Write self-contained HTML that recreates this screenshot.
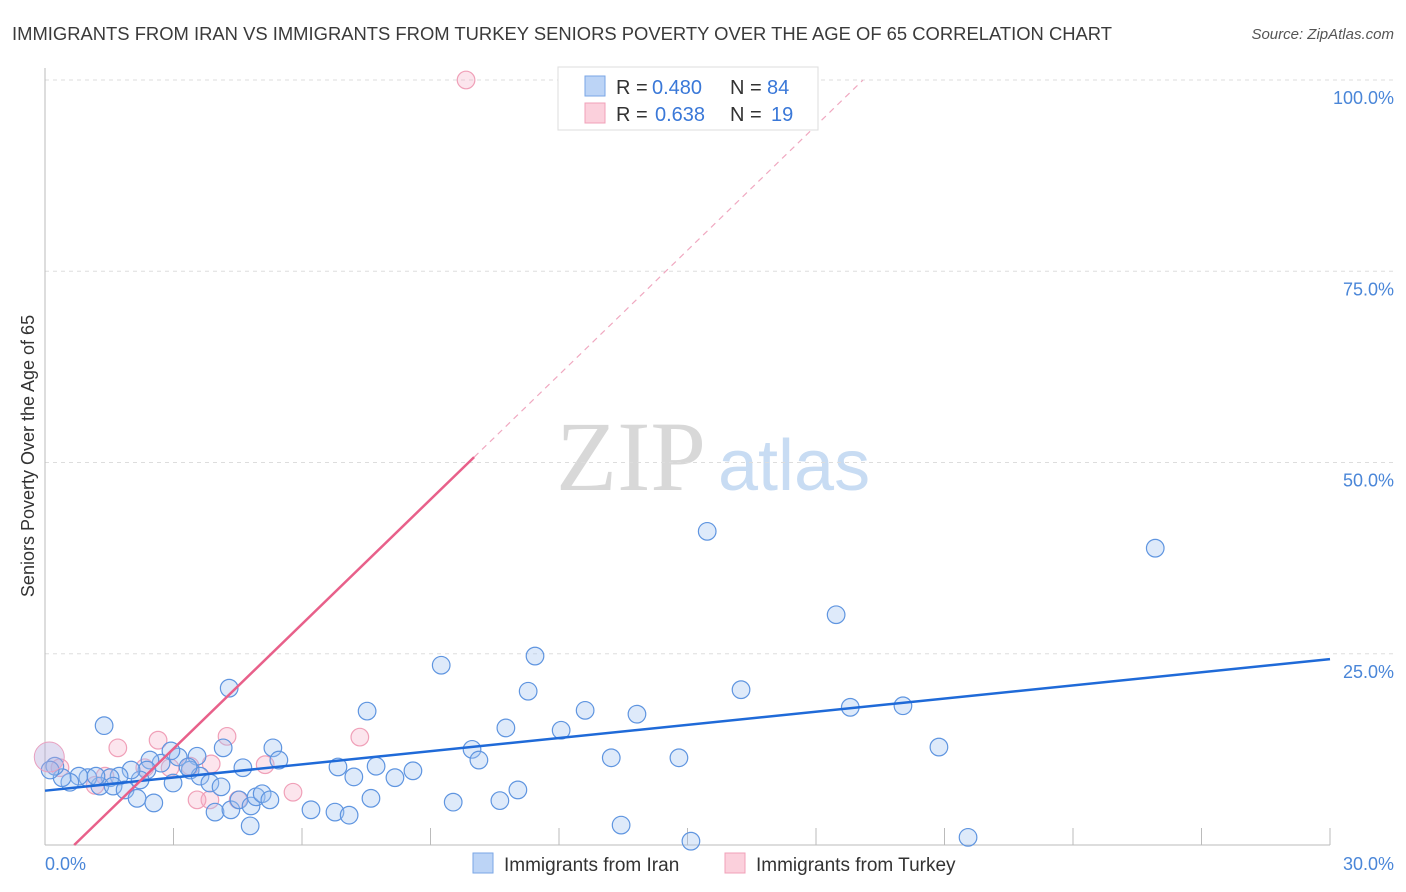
<!DOCTYPE html>
<html><head><meta charset="utf-8"><style>
body{margin:0;background:#fff;font-family:"Liberation Sans",sans-serif;}
#wrap{position:relative;width:1406px;height:892px;overflow:hidden;}
</style></head><body>
<div id="wrap">
<svg id="svg" width="1406" height="892" xmlns="http://www.w3.org/2000/svg">
<text x="12" y="40" font-size="18" fill="#3a3a3a" textLength="1100" lengthAdjust="spacingAndGlyphs">IMMIGRANTS FROM IRAN VS IMMIGRANTS FROM TURKEY SENIORS POVERTY OVER THE AGE OF 65 CORRELATION CHART</text>
<text x="1394" y="39" font-size="15" fill="#555" text-anchor="end" font-style="italic">Source: ZipAtlas.com</text>
<text x="556" y="490" font-size="100" fill="#d8d8d8" font-family="Liberation Serif,serif">ZIP</text>
<text x="718" y="490" font-size="72" fill="#c8dcf3">atlas</text>
<g id="grid"></g>
<g id="axes"></g>
<g id="pts"></g>
<g id="lines"></g>
<text transform="translate(34,456) rotate(-90)" font-size="18" fill="#333" text-anchor="middle">Seniors Poverty Over the Age of 65</text>
<text x="45" y="870" font-size="18" fill="#4a86d8">0.0%</text>
<text x="1394" y="870" font-size="18" fill="#4a86d8" text-anchor="end">30.0%</text>
<g>
<rect x="558" y="67" width="260" height="63" fill="#fff" stroke="#ddd"/>
<rect x="585" y="76" width="20" height="20" fill="#bcd4f6" stroke="#7aa6e6"/>
<rect x="585" y="103" width="20" height="20" fill="#fbd0dc" stroke="#f0a0b8"/>
<text x="616" y="94" font-size="20" fill="#333">R =</text>
<text x="652" y="94" font-size="20" fill="#3a78d8">0.480</text>
<text x="730" y="94" font-size="20" fill="#333">N =</text>
<text x="767" y="94" font-size="20" fill="#3a78d8">84</text>
<text x="616" y="121" font-size="20" fill="#333">R =</text>
<text x="655" y="121" font-size="20" fill="#3a78d8">0.638</text>
<text x="730" y="121" font-size="20" fill="#333">N =</text>
<text x="771" y="121" font-size="20" fill="#3a78d8">19</text>
</g>
<g>
<rect x="473" y="853" width="20" height="20" fill="#bcd4f6" stroke="#7aa6e6"/>
<text x="504" y="871" font-size="19" fill="#333">Immigrants from Iran</text>
<rect x="725" y="853" width="20" height="20" fill="#fbd0dc" stroke="#f0a0b8"/>
<text x="756" y="871" font-size="19" fill="#333">Immigrants from Turkey</text>
</g>
</svg>
</div>
<script>
const yTicks=[25,50,75,100];
const yTickLabels=["25.0%","50.0%","75.0%","100.0%"];
const xTickVals=[0,3,6,9,12,15,18,21,24,27,30];
const iranX=[1.38,4.30,9.25,11.44,11.28,7.52,12.61,13.82,16.25,15.46,18.47,25.92,18.80,20.03,20.87,10.76,12.05,9.97,10.13,13.22,14.80,8.59,7.73,6.84,7.21,8.17,7.61,9.53,10.62,11.04,6.21,6.77,7.10,13.45,15.08,21.55,5.32,5.46,4.62,4.16,3.55,3.11,2.94,2.71,2.45,2.38,3.39,3.62,3.85,4.11,3.34,2.99,2.22,2.01,1.73,1.52,1.28,1.00,0.79,0.58,0.40,0.23,0.12,1.19,1.59,1.87,2.15,2.54,3.97,4.34,4.53,4.81,4.93,5.07,5.25,4.79];
const iranY=[15.6,20.5,23.5,24.7,20.1,17.5,17.6,17.1,20.3,41.0,30.1,38.8,18.0,18.2,12.8,15.3,15.0,12.5,11.1,11.4,11.4,9.7,10.3,10.2,8.9,8.8,6.1,5.6,5.8,7.2,4.6,4.3,3.9,2.6,0.5,1.0,12.7,11.1,10.1,12.7,11.6,11.5,12.3,10.7,11.1,9.8,9.8,9.0,8.1,7.6,10.2,8.1,8.5,9.8,9.0,8.8,7.7,8.8,9.0,8.2,8.8,10.3,9.8,9.0,7.7,7.2,6.1,5.5,4.3,4.6,5.9,5.1,6.3,6.7,5.9,2.5];
const turkX=[9.83,0.35,1.40,1.70,2.64,4.25,3.88,4.51,3.85,3.55,5.14,5.79,7.35,2.92,1.17,2.33,3.39];
const turkY=[100,10.1,9.0,12.7,13.7,14.2,10.6,5.9,5.9,5.9,10.5,6.9,14.1,10.1,7.8,10.1,10.3];
const iranTrend=[7.1,24.3];
const turkTrend=[-3.7,5.43];
const NS="http://www.w3.org/2000/svg";
const X=v=>45+v/30*1285, Y=v=>845-v*7.65;
function mk(t,a,p){const e=document.createElementNS(NS,t);for(const k in a)e.setAttribute(k,a[k]);p.appendChild(e);return e;}
const grid=document.getElementById('grid'),axes=document.getElementById('axes'),pts=document.getElementById('pts'),lines=document.getElementById('lines');
yTicks.forEach((v,i)=>{
 const l=mk('line',{x1:45,x2:1394,y1:Y(v),y2:Y(v),stroke:'#ddd','stroke-dasharray':'4,4'},grid);
 
 
 const t=mk('text',{x:1394,y:Y(v)+24,'font-size':18,fill:'#4a86d8','text-anchor':'end'},grid);
 t.textContent=yTickLabels[i];
 
 
});
const ya=mk('line',{x1:45,x2:45,y1:68,y2:845,stroke:'#bbb'},axes);


const xa=mk('line',{x1:45,x2:1330,y1:845,y2:845,stroke:'#bbb'},axes);


xTickVals.forEach(v=>{
 const t=mk('line',{x1:X(v),x2:X(v),y1:828,y2:845,stroke:'#bbb'},axes);
 
 
});
turkX.forEach((v,i)=>{
 const c=mk('circle',{cx:X(v),cy:Y(turkY[i]),r:8.8,fill:'rgba(244,170,195,0.3)',stroke:'#f0a0b8','stroke-width':1.2},pts);
 
 
});
iranX.forEach((v,i)=>{
 const c=mk('circle',{cx:X(v),cy:Y(iranY[i]),r:8.8,fill:'rgba(160,196,240,0.35)',stroke:'#5f95e0','stroke-width':1.2},pts);
 
 
});
const big=mk('circle',{cx:X(0.1),cy:Y(11.5),r:15,fill:'rgba(180,170,220,0.4)',stroke:'#e8a0c0'},pts);


const bl=mk('line',{x1:X(0),y1:Y(iranTrend[0]),x2:X(30),y2:Y(iranTrend[1]),stroke:'#1f6ad8','stroke-width':2.5},lines);


const tx0=-turkTrend[0]/turkTrend[1], tx1=(50.7-turkTrend[0])/turkTrend[1], tx2=(100-turkTrend[0])/turkTrend[1];
const pl=mk('line',{x1:X(tx0),y1:Y(0),x2:X(tx1),y2:Y(50.7),stroke:'#e8608a','stroke-width':2.5},lines);


const pd=mk('line',{x1:X(tx1),y1:Y(50.7),x2:X(tx2),y2:Y(100),stroke:'#f0a8c0','stroke-width':1.2,'stroke-dasharray':'6,5'},lines);


</script>
</body></html>
